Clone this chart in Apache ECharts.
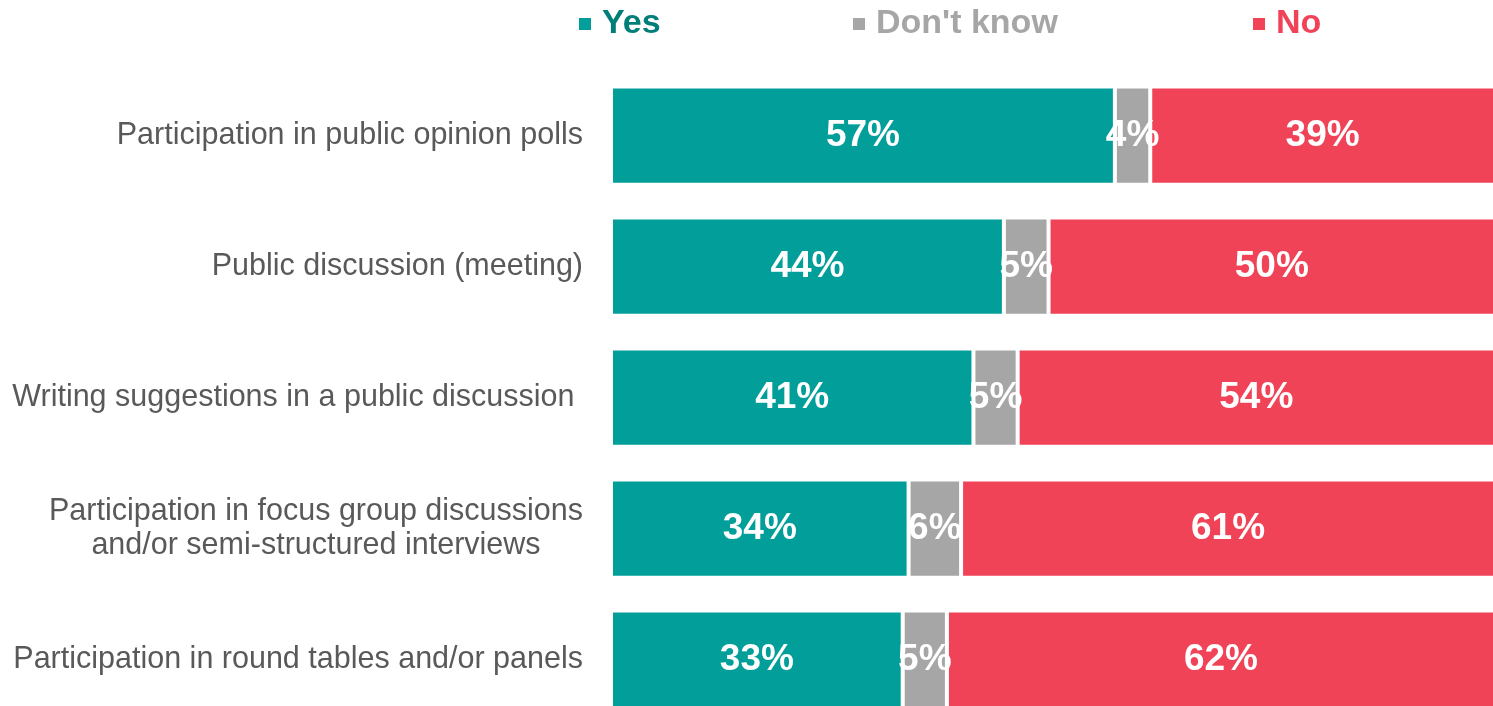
<!DOCTYPE html>
<html>
<head>
<meta charset="utf-8">
<style>
  html, body { margin: 0; padding: 0; background: #ffffff; overflow: hidden; }
  #chart { width: 1495px; height: 730px; }
</style>
<script src="https://cdn.jsdelivr.net/npm/echarts@6/dist/echarts.min.js"></script>
</head>
<body>
<div id="chart"></div>
<script>
// Forms of participation, top to bottom
const categories = [
  'Participation in public opinion polls',
  'Public discussion (meeting)',
  'Writing suggestions in a public discussion ',
  'Participation in focus group discussions\nand/or semi-structured interviews',
  'Participation in round tables and/or panels'
];
const yesValues = [57, 44, 41, 34, 33];
const dontKnowValues = [4, 5, 5, 6, 5];
const noValues = [39, 50, 54, 61, 62];

const seriesNames = ['Yes', "Don't know", 'No'];
const barColors = ['#029e9a', '#a6a6a6', '#f04357'];
const legendTextColors = ['#027e7a', '#a6a6a6', '#f04357'];
const legendLefts = [572, 846, 1246];

// Each row is shown as a 100% stacked bar; the labels keep the stated percentages
const raw = [yesValues, dontKnowValues, noValues];
const rowTotals = categories.map((_, i) => raw.reduce((s, arr) => s + arr[i], 0));

const chart = echarts.init(document.getElementById('chart'));

const series = raw.map((arr, si) => ({
  name: seriesNames[si],
  type: 'bar',
  stack: 'total',
  barCategoryGap: '25%',
  itemStyle: { color: barColors[si], borderColor: '#ffffff', borderWidth: 2 },
  label: {
    show: true,
    position: 'inside',
    color: '#ffffff',
    fontFamily: 'Liberation Sans, Arial, sans-serif',
    fontWeight: 'bold',
    fontSize: 37,
    formatter: p => arr[p.dataIndex] + '%'
  },
  data: arr.map((v, i) => v / rowTotals[i] * 100)
}));

// One legend block per series so each entry sits at its own spot
const legends = seriesNames.map((n, i) => ({
  top: 2,
  left: legendLefts[i],
  icon: 'rect',
  itemWidth: 14,
  itemHeight: 14,
  data: [{
    name: n,
    textStyle: {
      color: legendTextColors[i],
      fontFamily: 'Liberation Sans, Arial, sans-serif',
      fontWeight: 'bold',
      fontSize: 34,
      padding: [0, 0, 0, 5]
    }
  }]
}));

chart.setOption({
  animation: false,
  legend: legends,
  grid: {
    left: 611,
    right: 0,
    top: 70,
    height: 655,
    containLabel: false
  },
  xAxis: {
    type: 'value',
    min: 0,
    max: 100,
    show: false
  },
  yAxis: {
    type: 'category',
    inverse: true,
    data: categories,
    axisLine: { show: false },
    axisTick: { show: false },
    axisLabel: {
      margin: 28,
      color: '#595959',
      fontFamily: 'Liberation Sans, Arial, sans-serif',
      fontSize: 30.5,
      lineHeight: 34,
      align: 'right',
      // two-line labels have their lines centred on each other
      formatter: v => v.indexOf('\n') >= 0
        ? v.split('\n').map(s => '{c|' + s + '}').join('\n')
        : v,
      rich: {
        c: {
          width: 534,
          align: 'center',
          color: '#595959',
          fontFamily: 'Liberation Sans, Arial, sans-serif',
          fontSize: 30.5,
          lineHeight: 34
        }
      }
    }
  },
  series: series
});
</script>
</body>
</html>
